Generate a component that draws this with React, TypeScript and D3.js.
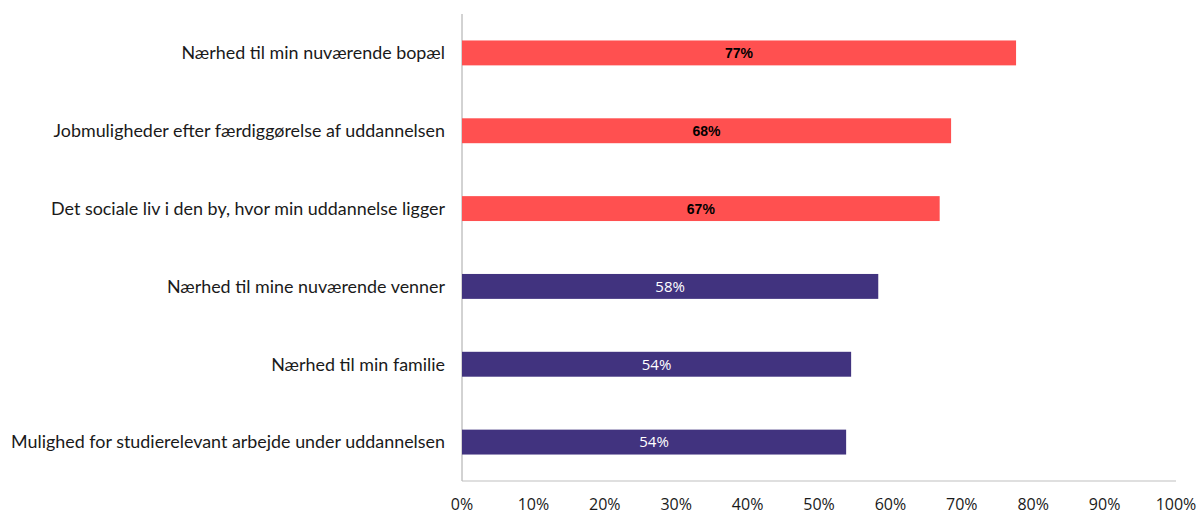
import React from "react";
import * as d3 from "d3";

const categories = [
  "Nærhed til min nuværende bopæl",
  "Jobmuligheder efter færdiggørelse af uddannelsen",
  "Det sociale liv i den by, hvor min uddannelse ligger",
  "Nærhed til mine nuværende venner",
  "Nærhed til min familie",
  "Mulighed for studierelevant arbejde under uddannelsen",
];
const values = [0.776, 0.685, 0.669, 0.583, 0.545, 0.538];
const valueLabels = ["77%", "68%", "67%", "58%", "54%", "54%"];
const highlighted = [true, true, true, false, false, false];
const ticks = [0, 0.1, 0.2, 0.3, 0.4, 0.5, 0.6, 0.7, 0.8, 0.9, 1.0];

const W = 1201;
const H = 514;
const left = 462;
const right = 1176;
const top = 14;
const bottom = 481;

export default function App() {
  const x = d3.scaleLinear().domain([0, 1]).range([left, right]);
  const y = d3.scaleBand<string>().domain(categories).range([top, bottom]).paddingInner(0.68).paddingOuter(0.34);
  const bh = y.bandwidth();
  return (
    <svg width={W} height={H} style={{ position: "absolute", left: 0, top: 0, background: "#fff" }}>
      <line x1={left} x2={left} y1={top} y2={bottom} stroke="#a6a6a6" strokeWidth={1} />
      <line x1={left} x2={right} y1={bottom} y2={bottom} stroke="#bfbfbf" strokeWidth={1} />
      {categories.map((c, i) => {
        const yy = y(c)!;
        return (
          <g key={c}>
            <rect x={x(0)} y={yy} width={x(values[i]) - x(0)} height={bh} fill={highlighted[i] ? "#FF5050" : "#41337F"} />
            <text
              x={left - 17}
              y={yy + bh / 2}
              dy="0.35em"
              textAnchor="end"
              fontFamily="Lato"
              fontSize={17.9}
              fill="#1a1a1a"
            >
              {c}
            </text>
            <text
              x={(x(0) + x(values[i])) / 2}
              y={yy + bh / 2}
              dy="0.36em"
              textAnchor="middle"
              fontFamily={highlighted[i] ? "Liberation Sans" : "Open Sans"}
              fontWeight={highlighted[i] ? 700 : 400}
              fontSize={highlighted[i] ? 14 : 15}
              fill={highlighted[i] ? "#000" : "#fff"}
            >
              {valueLabels[i]}
            </text>
          </g>
        );
      })}
      {ticks.map((t) => (
        <text key={t} x={x(t)} y={510} textAnchor="middle" fontFamily="Open Sans" fontSize={16} fill="#1a1a1a">
          {d3.format(".0%")(t)}
        </text>
      ))}
    </svg>
  );
}
